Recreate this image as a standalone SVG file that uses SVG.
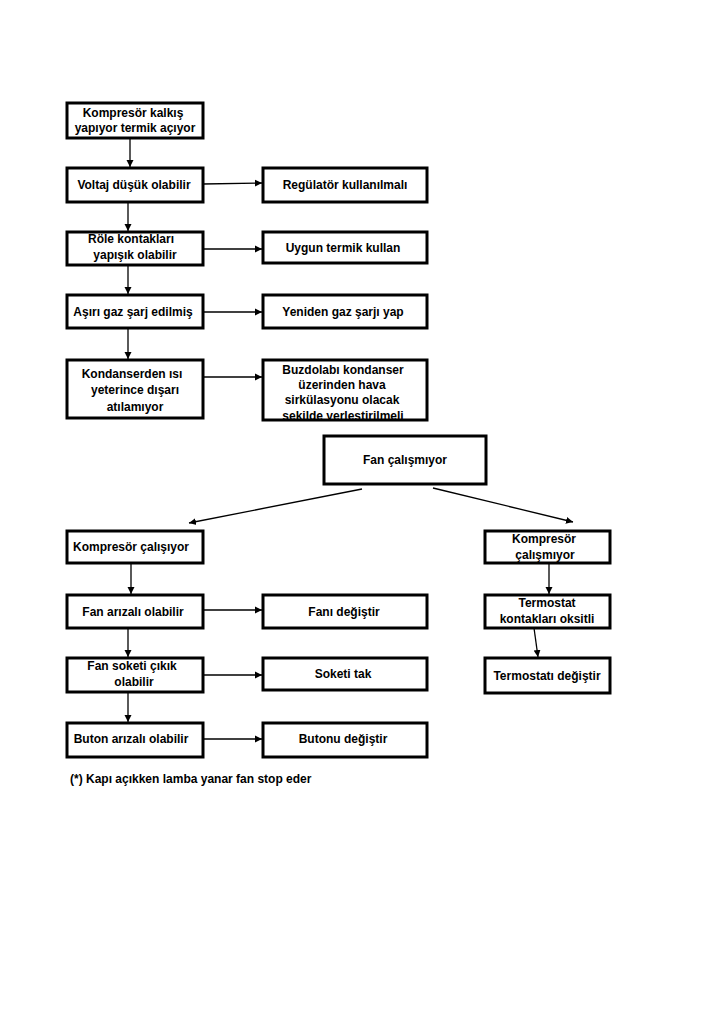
<svg xmlns="http://www.w3.org/2000/svg" width="728" height="1030" viewBox="0 0 728 1030">
<style>
.box{fill:#fff;stroke:#000;stroke-width:3}
text{font-family:"Liberation Sans",Arial,sans-serif;font-weight:bold;font-size:12px;fill:#000;text-anchor:middle}
.c{stroke:#000;stroke-width:1.3;fill:none;marker-end:url(#ah)}
</style>
<defs>
<marker id="ah" markerWidth="8" markerHeight="8" refX="7" refY="4" orient="auto" markerUnits="userSpaceOnUse">
<path d="M0,0.5 L7,4 L0,7.5 Z" fill="#000"/>
</marker>
<clipPath id="clipBuz"><rect x="263" y="360" width="164" height="59"/></clipPath>
</defs>
<rect width="728" height="1030" fill="#fff"/>
<g id="connectors">
<line class="c" x1="130" y1="138" x2="130" y2="167"/>
<line class="c" x1="203" y1="184" x2="262" y2="183"/>
<line class="c" x1="128" y1="202" x2="128" y2="231"/>
<line class="c" x1="203" y1="249" x2="262" y2="249"/>
<line class="c" x1="128" y1="265" x2="128" y2="294"/>
<line class="c" x1="203" y1="312" x2="262" y2="312"/>
<line class="c" x1="128" y1="328" x2="128" y2="359"/>
<line class="c" x1="203" y1="377" x2="262" y2="377"/>
<line class="c" x1="362" y1="489" x2="189" y2="523"/>
<line class="c" x1="433" y1="488" x2="573" y2="522"/>
<line class="c" x1="131" y1="563" x2="131" y2="594"/>
<line class="c" x1="203" y1="610" x2="262" y2="610"/>
<line class="c" x1="128" y1="628" x2="128" y2="657"/>
<line class="c" x1="203" y1="675" x2="262" y2="675"/>
<line class="c" x1="128" y1="692" x2="128" y2="722"/>
<line class="c" x1="203" y1="739" x2="262" y2="739"/>
<line class="c" x1="549" y1="563" x2="549" y2="594"/>
<line class="c" x1="534" y1="628" x2="538" y2="657"/>
</g>
<g id="n1"><rect class="box" x="67" y="103" width="136" height="35"/><text x="133" y="117">Kompresör kalkış</text><text x="135" y="132">yapıyor termik açıyor</text></g>
<g id="n2"><rect class="box" x="67" y="168" width="136" height="34"/><text x="134" y="189">Voltaj düşük olabilir</text></g>
<g id="n3"><rect class="box" x="263" y="168" width="164" height="34"/><text x="345" y="189">Regülatör kullanılmalı</text></g>
<g id="n4"><rect class="box" x="67" y="232" width="136" height="33"/><text x="131" y="243">Röle kontakları</text><text x="135" y="259">yapışık olabilir</text></g>
<g id="n5"><rect class="box" x="263" y="232" width="164" height="31"/><text x="343" y="252">Uygun termik kullan</text></g>
<g id="n6"><rect class="box" x="67" y="295" width="136" height="33"/><text x="133" y="316">Aşırı gaz şarj edilmiş</text></g>
<g id="n7"><rect class="box" x="263" y="295" width="164" height="33"/><text x="343" y="316">Yeniden gaz şarjı yap</text></g>
<g id="n8"><rect class="box" x="67" y="360" width="136" height="58"/><text x="132" y="378">Kondanserden ısı</text><text x="135" y="394">yeterince dışarı</text><text x="135" y="411">atılamıyor</text></g>
<g id="n9"><rect class="box" x="263" y="360" width="164" height="60"/><g clip-path="url(#clipBuz)"><text x="343" y="374">Buzdolabı kondanser</text><text x="342" y="389">üzerinden hava</text><text x="342" y="404">sirkülasyonu olacak</text><text x="343" y="420">şekilde yerleştirilmeli</text></g></g>
<g id="n10"><rect class="box" x="324" y="436" width="162" height="48"/><text x="405" y="464">Fan çalışmıyor</text></g>
<g id="n11"><rect class="box" x="67" y="531" width="136" height="32"/><text x="131" y="551">Kompresör çalışıyor</text></g>
<g id="n12"><rect class="box" x="485" y="531" width="125" height="32"/><text x="544" y="543">Kompresör</text><text x="545" y="559">çalışmıyor</text></g>
<g id="n13"><rect class="box" x="67" y="595" width="136" height="33"/><text x="133" y="616">Fan arızalı olabilir</text></g>
<g id="n14"><rect class="box" x="263" y="595" width="164" height="33"/><text x="344" y="616">Fanı değiştir</text></g>
<g id="n15"><rect class="box" x="485" y="595" width="125" height="33"/><text x="547" y="607">Termostat</text><text x="547" y="623">kontakları oksitli</text></g>
<g id="n16"><rect class="box" x="67" y="658" width="136" height="34"/><text x="132" y="670">Fan soketi çıkık</text><text x="134" y="686">olabilir</text></g>
<g id="n17"><rect class="box" x="263" y="658" width="164" height="32"/><text x="343" y="678">Soketi tak</text></g>
<g id="n18"><rect class="box" x="485" y="658" width="125" height="35"/><text x="547" y="680">Termostatı değiştir</text></g>
<g id="n19"><rect class="box" x="67" y="723" width="136" height="34"/><text x="131" y="743">Buton arızalı olabilir</text></g>
<g id="n20"><rect class="box" x="263" y="723" width="164" height="34"/><text x="343" y="743">Butonu değiştir</text></g>
<text x="70" y="783" style="text-anchor:start">(*) Kapı açıkken lamba yanar fan stop eder</text>
</svg>
